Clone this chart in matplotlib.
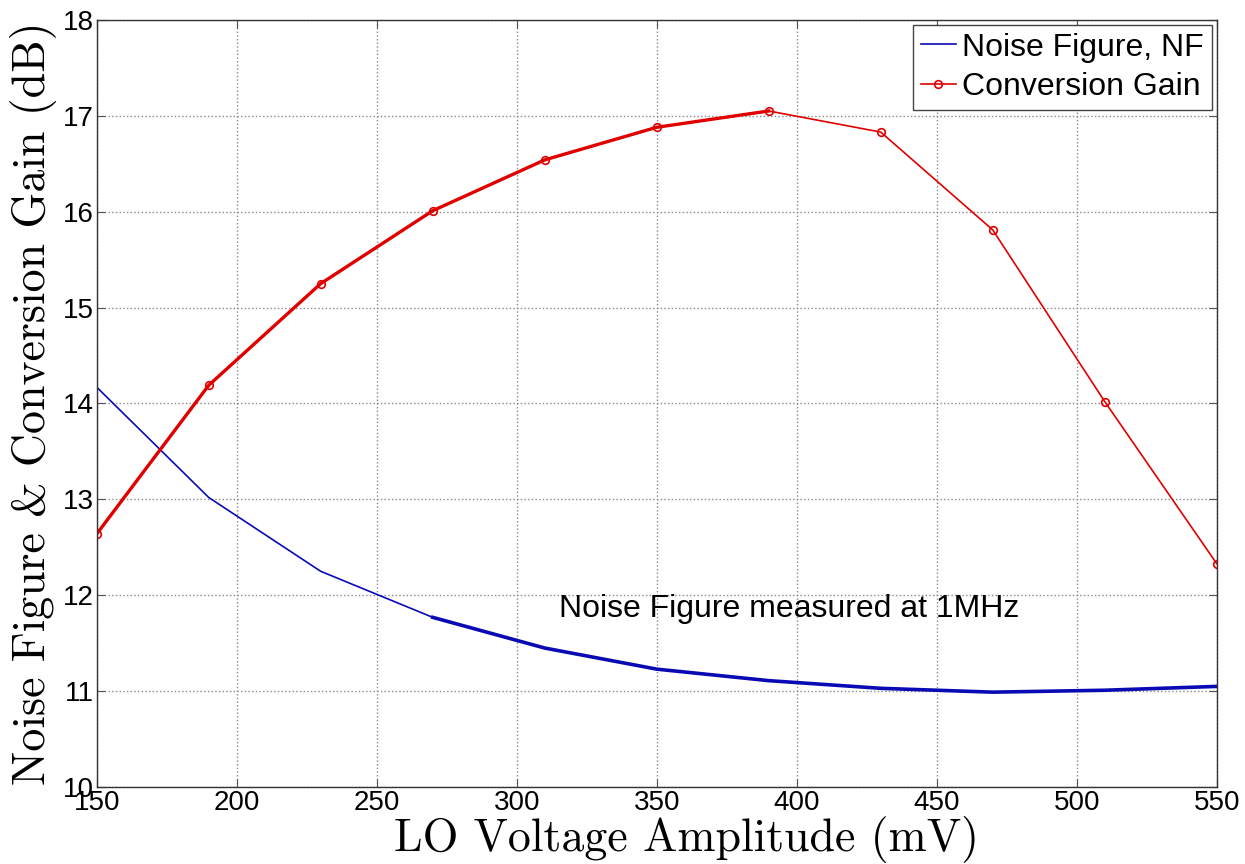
import numpy as np
import matplotlib
matplotlib.use('Agg')
import matplotlib.pyplot as plt

## data
loVoltage = [150, 190, 230, 270, 310, 350, 390, 430, 470, 510, 550]   # mV
noiseFigure = [14.17, 13.02, 12.25, 11.77, 11.45, 11.23, 11.11, 11.03, 10.99, 11.01, 11.05]
convGain = [12.64, 14.19, 15.25, 16.01, 16.54, 16.88, 17.05, 16.83, 15.81, 14.02, 12.33]
annotationText = 'Noise Figure measured at 1MHz'

## style
blueColour = '#0a0ab4'
redColour = '#e00000'
tickFont = 'Liberation Sans'
labelFont = 'cmr10'
plt.rcParams['font.family'] = tickFont

fig = plt.figure(figsize=(12.45, 8.64), dpi=100)
ax = fig.add_axes([0.0777, 0.089, 0.8996, 0.888])

x = np.array(loVoltage)
nf = np.array(noiseFigure)
cg = np.array(convGain)

# thin full traces, with the thicker (overlapping sweeps) part on top
ax.plot(x, nf, color=blueColour, lw=1.2, label='Noise Figure, NF')
ax.plot(x[3:], nf[3:], color=blueColour, lw=2.6)
ax.plot(x, cg, color=redColour, lw=1.2, marker='o', ms=5.5, mfc='none', mew=1.2,
        label='Conversion Gain')
ax.plot(x[:7], cg[:7], color=redColour, lw=2.4)

ax.text(315, 11.86, annotationText, fontsize=23, family=tickFont, va='center', ha='left')

ax.set_xlim(150, 550)
ax.set_ylim(10, 18)
ax.set_xticks(np.arange(150, 551, 50))
ax.set_yticks(np.arange(10, 19, 1))
ax.tick_params(direction='in', top=True, right=True, labelsize=20, length=6,
               color='#555555', pad=2)
ax.grid(True, linestyle=':', color='#888888', linewidth=1.0)
for sp in ax.spines.values():
    sp.set_color('#333333')
    sp.set_linewidth(1.0)

ax.set_xlabel('LO Voltage Amplitude (mV)', fontsize=33, family=labelFont, labelpad=0)
ax.xaxis.set_label_coords(0.527, -0.038, transform=ax.transAxes)
ax.xaxis.label.set_va('top')
ax.set_ylabel('Noise Figure & Conversion Gain (dB)', fontsize=33, family=labelFont, labelpad=4)

leg = ax.legend(loc='upper right', fontsize=23, handlelength=1.1, handletextpad=0.2,
                borderpad=0.25, labelspacing=0.3, fancybox=False, framealpha=1,
                edgecolor='#444444', borderaxespad=0.15)
leg.get_frame().set_linewidth(1.0)

fig.savefig('out.png', dpi=100)
